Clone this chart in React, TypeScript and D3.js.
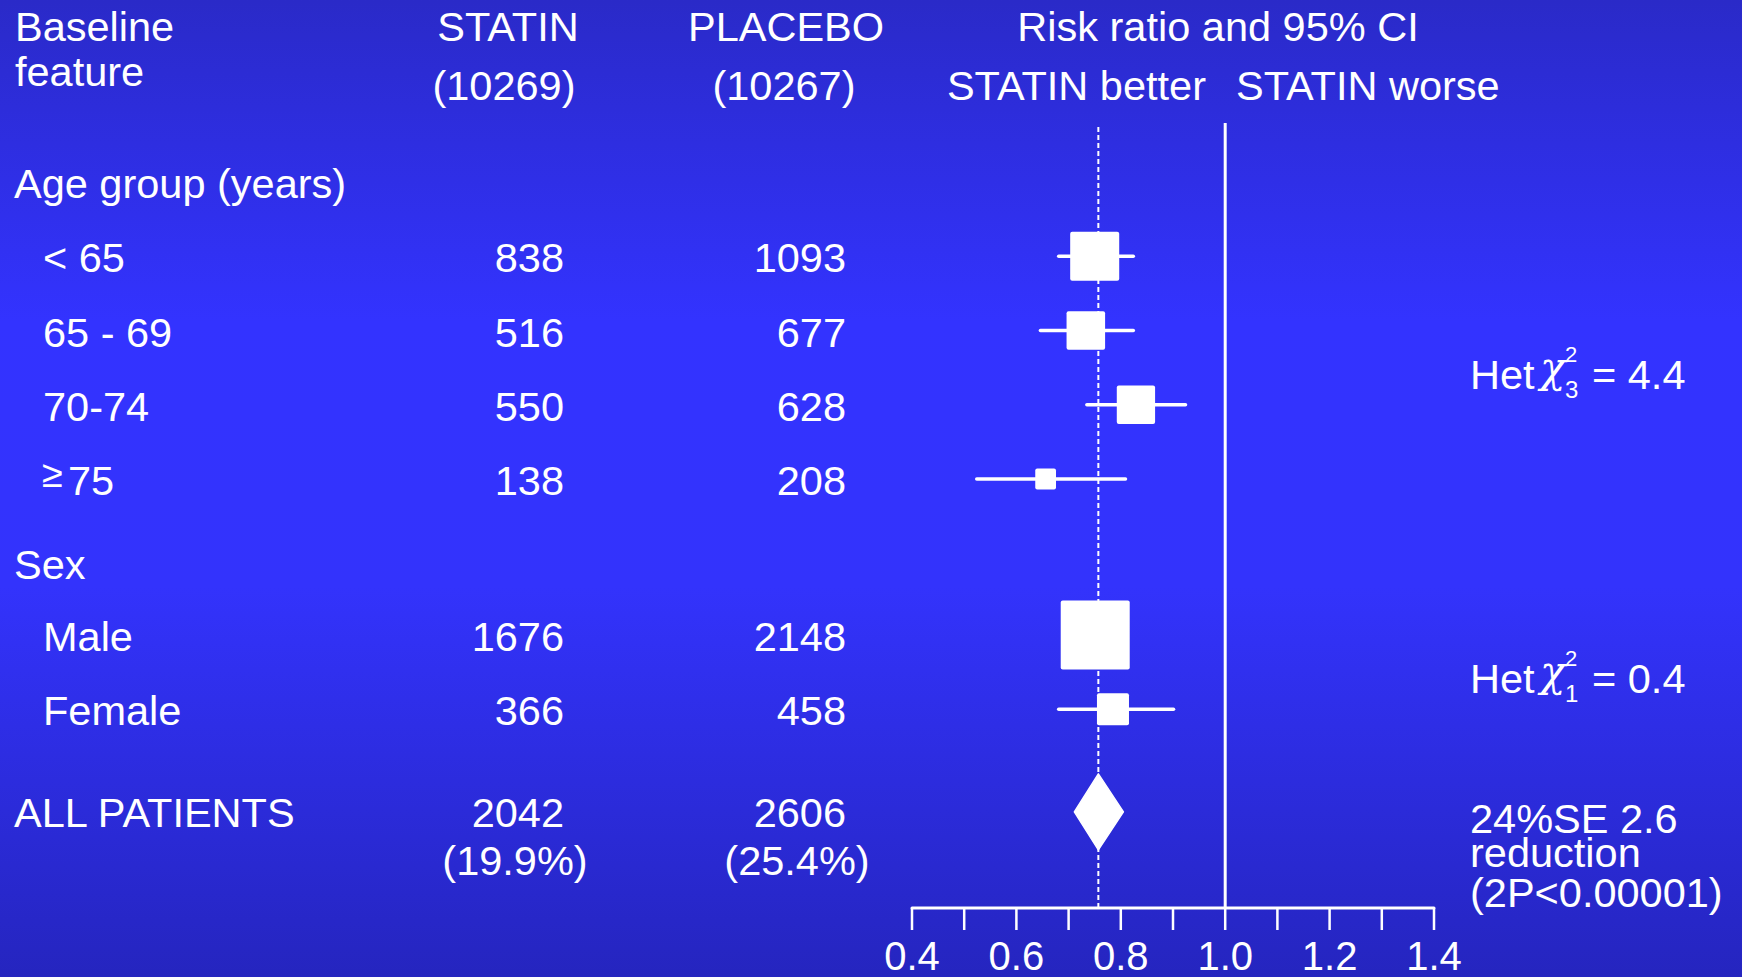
import React from 'react';
import * as d3 from 'd3';

// ---------- data ----------
const subgroupLabels = ['< 65', '65 - 69', '70-74', '≥75', 'Male', 'Female'];
const subgroupCategory = ['age', 'age', 'age', 'age', 'sex', 'sex'];
const statinEvents = [838, 516, 550, 138, 1676, 366];
const placeboEvents = [1093, 677, 628, 208, 2148, 458];
const riskRatio = [0.75, 0.733, 0.829, 0.656, 0.751, 0.785];
const ciLower = [0.681, 0.646, 0.735, 0.524, 0.7, 0.681];
const ciUpper = [0.824, 0.824, 0.924, 0.809, 0.81, 0.901];

const categoryLabels = ['Age group (years)', 'Sex'];
const hetDf = ['3', '1'];
const hetValue = ['4.4', '0.4'];

const totalLabel = 'ALL PATIENTS';
const totalStatin = 2042;
const totalPlacebo = 2606;
const totalStatinPct = '(19.9%)';
const totalPlaceboPct = '(25.4%)';
const totalRR = 0.757;
const totalLower = 0.711;
const totalUpper = 0.805;
const reductionLines = ['24%SE 2.6', 'reduction', '(2P<0.00001)'];

const statinN = '(10269)';
const placeboN = '(10267)';
const axisMin = 0.4;
const axisMax = 1.4;

// ---------- layout (row slots) ----------
const catSlot = [0, 5.13];
const rowSlot = [1, 2, 3, 4, 6.1, 7.1];
const totalSlot = 8.47;

const W = 1742;
const H = 977;
const FONT = "'Liberation Sans', Arial, Helvetica, sans-serif";
const FS = 41.5;

export default function App() {
  const x = d3.scaleLinear().domain([axisMin, axisMax]).range([912, 1434]);
  const yBase = d3.scaleLinear().domain([0, 4]).range([198, 495]);
  const boxSize = d3.scaleSqrt().domain([0, 3824]).range([0, 69]);
  const tickVals = x.ticks(10);
  const fmt = d3.format('.1f');
  const axisY = 908;
  const statinRight = 564;
  const placeboRight = 846;
  const hetX = 1470;

  const rows = subgroupLabels.map((label, i) => ({
    label,
    cat: subgroupCategory[i],
    s: statinEvents[i],
    p: placeboEvents[i],
    rr: riskRatio[i],
    lo: ciLower[i],
    hi: ciUpper[i],
    base: yBase(rowSlot[i]),
    size: boxSize(statinEvents[i] + placeboEvents[i]),
  }));

  const totBase = yBase(totalSlot);
  const totCy = totBase - 15;
  const diamond = d3.path();
  diamond.moveTo(x(totalLower), totCy);
  diamond.lineTo(x(totalRR), totCy - 38);
  diamond.lineTo(x(totalUpper), totCy);
  diamond.lineTo(x(totalRR), totCy + 38);
  diamond.closePath();

  const hetGroups = ['age', 'sex'].map((c, gi) => {
    const bs = rows.filter((r) => r.cat === c).map((r) => r.base);
    const mid = c === 'age' ? (bs[1] + bs[2]) / 2 : (bs[0] + bs[1]) / 2;
    return { base: mid + 5, df: hetDf[gi], val: hetValue[gi] };
  });

  return (
    <svg
      width={W}
      height={H}
      style={{ position: 'absolute', left: 0, top: 0, display: 'block' }}
      fontFamily={FONT}
    >
      <defs>
        <linearGradient id="bg" x1="0" y1="0" x2="0" y2="1">
          <stop offset="0" stopColor="#2a2ac8" />
          <stop offset="0.33" stopColor="#3333ff" />
          <stop offset="0.6" stopColor="#3333fc" />
          <stop offset="1" stopColor="#2525bf" />
        </linearGradient>
      </defs>
      <rect x={0} y={0} width={W} height={H} fill="url(#bg)" />

      <g fill="#fff" fontSize={FS}>
        {/* headers */}
        <text x={15} y={41}>Baseline</text>
        <text x={15} y={86}>feature</text>
        <text x={508} y={41} textAnchor="middle">STATIN</text>
        <text x={504} y={100} textAnchor="middle">{statinN}</text>
        <text x={786} y={41} textAnchor="middle">PLACEBO</text>
        <text x={784} y={100} textAnchor="middle">{placeboN}</text>
        <text x={1218} y={41} textAnchor="middle">Risk ratio and 95% CI</text>
        <text x={1206} y={100} textAnchor="end">STATIN better</text>
        <text x={1236} y={100}>STATIN worse</text>

        {/* category labels */}
        {categoryLabels.map((c, i) => (
          <text key={c} x={14} y={yBase(catSlot[i])}>{c}</text>
        ))}

        {/* subgroup rows */}
        {rows.map((r) => (
          <g key={r.label}>
            {r.label.startsWith('≥') ? (
              <g>
                <text x={42} y={r.base - 8} fontSize={38}>≥</text>
                <text x={68} y={r.base}>{r.label.slice(1)}</text>
              </g>
            ) : (
              <text x={43} y={r.base}>{r.label}</text>
            )}
            <text x={statinRight} y={r.base} textAnchor="end">{r.s}</text>
            <text x={placeboRight} y={r.base} textAnchor="end">{r.p}</text>
          </g>
        ))}

        {/* total */}
        <text x={14} y={totBase}>{totalLabel}</text>
        <text x={statinRight} y={totBase} textAnchor="end">{totalStatin}</text>
        <text x={placeboRight} y={totBase} textAnchor="end">{totalPlacebo}</text>
        <text x={515} y={totBase + 48} textAnchor="middle">{totalStatinPct}</text>
        <text x={797} y={totBase + 48} textAnchor="middle">{totalPlaceboPct}</text>

        {/* het tests */}
        {hetGroups.map((h) => (
          <g key={h.df}>
            <text x={hetX} y={h.base}>Het</text>
            <text
              x={hetX + 70}
              y={h.base - 7}
              fontFamily="'DejaVu Serif', 'Liberation Serif', serif"
              fontStyle="italic"
              fontSize={42}
            >
              χ
            </text>
            <text x={hetX + 95} y={h.base - 27} fontSize={22}>2</text>
            <text x={hetX + 95} y={h.base + 9} fontSize={24}>{h.df}</text>
            <text x={hetX + 122} y={h.base}>= {h.val}</text>
          </g>
        ))}

        {/* reduction text */}
        {reductionLines.map((t, i) => (
          <text key={t} x={hetX} y={[833, 867, 907][i]}>{t}</text>
        ))}
      </g>

      {/* reference lines */}
      <line
        x1={x(totalRR)}
        x2={x(totalRR)}
        y1={127}
        y2={axisY}
        stroke="#fff"
        strokeWidth={2}
        strokeDasharray="5,3"
      />
      <line x1={x(1)} x2={x(1)} y1={123} y2={axisY} stroke="#fff" strokeWidth={3} />

      {/* CIs and boxes */}
      {rows.map((r) => {
        const cy = r.base - 16;
        return (
          <g key={'m' + r.label}>
            <line
              x1={x(r.lo)}
              x2={x(r.hi)}
              y1={cy}
              y2={cy}
              stroke="#fff"
              strokeWidth={3.5}
              strokeLinecap="round"
            />
            <rect
              x={x(r.rr) - r.size / 2}
              y={cy - r.size / 2}
              width={r.size}
              height={r.size}
              rx={2}
              fill="#fff"
            />
          </g>
        );
      })}
      <path d={diamond.toString()} fill="#fff" stroke="#fff" strokeWidth={1.5} strokeLinejoin="round" />

      {/* axis */}
      <line x1={x(axisMin)} x2={x(axisMax)} y1={axisY} y2={axisY} stroke="#fff" strokeWidth={3} strokeLinecap="round" />
      {tickVals.map((t) => (
        <line key={t} x1={x(t)} x2={x(t)} y1={axisY} y2={axisY + 22} stroke="#fff" strokeWidth={2.5} />
      ))}
      <g fill="#fff" fontSize={40}>
        {tickVals
          .filter((t, i) => i % 2 === 0)
          .map((t) => (
            <text key={'l' + t} x={x(t)} y={970} textAnchor="middle">{fmt(t)}</text>
          ))}
      </g>
    </svg>
  );
}
